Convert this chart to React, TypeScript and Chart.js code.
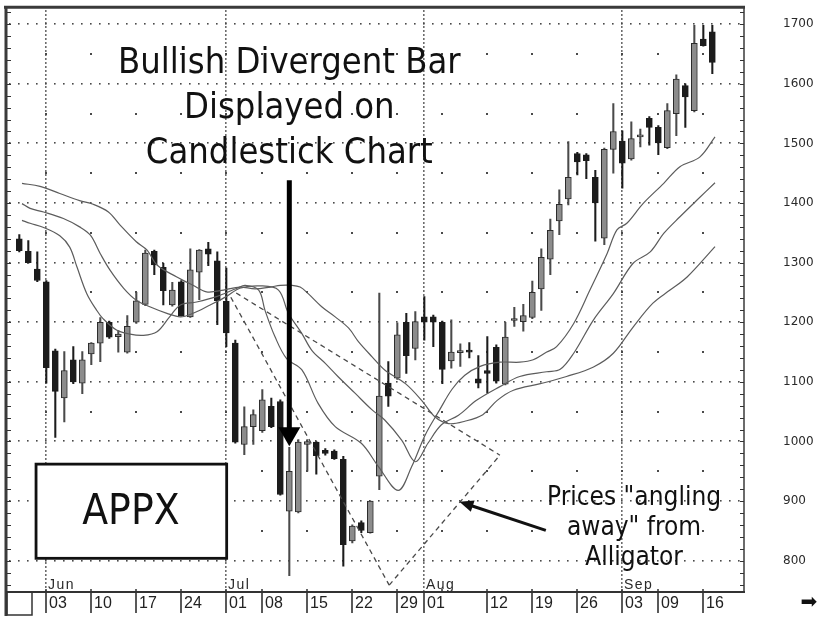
import React, { useEffect, useRef } from 'react';
import { Chart, registerables } from 'chart.js';

Chart.register(...registerables);

// Trading-day index 0 = 29 May 2002 (APPX daily candles)
const opens = [1340, 1319, 1289, 1268, 1152, 1073, 1137, 1098, 1147, 1165, 1200, 1176, 1150, 1200, 1230, 1319, 1292, 1229, 1268, 1209, 1284, 1323, 1303, 1235, 1165, 995, 1025, 1018, 1059, 1067, 883, 882, 995, 999, 985, 984, 970, 833, 864, 847, 942, 1098, 1106, 1200, 1156, 1209, 1209, 1200, 1135, 1149, 1151, 1105, 1119, 1158, 1096, 1203, 1201, 1208, 1256, 1306, 1370, 1407, 1483, 1481, 1443, 1341, 1490, 1504, 1474, 1511, 1542, 1527, 1493, 1550, 1597, 1555, 1675, 1687];
const highs = [1347, 1337, 1318, 1270, 1155, 1151, 1159, 1151, 1166, 1208, 1202, 1186, 1211, 1250, 1321, 1321, 1299, 1267, 1270, 1323, 1322, 1334, 1318, 1291, 1170, 1058, 1053, 1087, 1073, 1070, 990, 1003, 1003, 1000, 988, 986, 975, 860, 867, 900, 1249, 1134, 1199, 1215, 1218, 1243, 1212, 1202, 1204, 1164, 1166, 1144, 1176, 1162, 1200, 1225, 1230, 1269, 1323, 1373, 1422, 1503, 1485, 1483, 1455, 1492, 1567, 1521, 1536, 1524, 1545, 1530, 1567, 1615, 1600, 1698, 1698, 1698];
const lows = [1318, 1299, 1268, 1098, 1007, 1033, 1097, 1080, 1129, 1134, 1173, 1150, 1148, 1198, 1228, 1280, 1229, 1227, 1210, 1208, 1238, 1295, 1196, 1159, 997, 978, 995, 1015, 1023, 910, 775, 880, 950, 945, 977, 970, 791, 830, 847, 846, 919, 1059, 1104, 1114, 1137, 1170, 1159, 1097, 1123, 1126, 1140, 1090, 1081, 1098, 1095, 1193, 1185, 1206, 1220, 1280, 1347, 1397, 1447, 1441, 1336, 1330, 1450, 1425, 1472, 1494, 1497, 1481, 1491, 1513, 1527, 1553, 1663, 1617];
const closes = [1320, 1300, 1270, 1124, 1084, 1119, 1100, 1137, 1165, 1200, 1175, 1180, 1193, 1236, 1316, 1296, 1253, 1254, 1211, 1288, 1321, 1314, 1236, 1182, 999, 1025, 1045, 1070, 1025, 911, 950, 999, 1000, 976, 980, 971, 827, 858, 851, 900, 1076, 1076, 1179, 1144, 1201, 1200, 1200, 1121, 1150, 1151, 1150, 1098, 1114, 1101, 1175, 1205, 1211, 1250, 1309, 1354, 1398, 1443, 1469, 1471, 1400, 1490, 1520, 1467, 1508, 1513, 1527, 1501, 1555, 1608, 1578, 1668, 1664, 1636];

// Alligator lines
const lipsDays = [0.3, 1.2, 2.7, 4.5, 5.6, 6.4, 7.5, 8.6, 9.3, 10.8, 12.3, 13.8, 15.3, 16.7, 17.9, 19.7, 21.9, 24.2, 25.1, 26.6, 27.3, 28.4, 29.7, 31.4, 33.2, 35.1, 38.0, 39.9, 42.1, 43.6, 45.1, 46.7, 48.1, 49.5, 51.2, 53.4, 55.6, 57.1, 58.6, 59.7, 61.6, 63.4, 65.3, 66.4, 67.5, 69.3, 71.6, 73.4, 75.6, 77.3];
const lipsValues = [1371, 1366, 1359, 1345, 1326, 1293, 1248, 1220, 1206, 1187, 1180, 1178, 1184, 1209, 1229, 1234, 1243, 1257, 1262, 1254, 1220, 1176, 1139, 1120, 1064, 1025, 997, 958, 918, 958, 1011, 1053, 1088, 1111, 1126, 1133, 1133, 1137, 1150, 1159, 1198, 1254, 1315, 1355, 1366, 1399, 1433, 1461, 1477, 1511];
const teethDays = [0.3, 1.2, 2.7, 4.9, 6.7, 7.9, 9.0, 10.1, 11.6, 13.0, 14.5, 16.4, 17.9, 19.3, 21.2, 23.0, 24.5, 26.8, 28.8, 29.9, 31.4, 32.5, 34.0, 35.4, 37.3, 39.2, 40.6, 42.5, 44.0, 45.4, 46.9, 48.8, 50.8, 53.4, 55.6, 58.6, 60.1, 61.6, 63.8, 66.0, 68.2, 70.1, 71.6, 73.4, 75.3, 77.3];
const teethValues = [1399, 1391, 1385, 1374, 1360, 1346, 1315, 1287, 1257, 1237, 1226, 1215, 1209, 1215, 1229, 1243, 1257, 1261, 1254, 1215, 1181, 1153, 1131, 1109, 1081, 1053, 1036, 1002, 966, 997, 1028, 1044, 1069, 1092, 1109, 1117, 1121, 1148, 1204, 1248, 1299, 1318, 1349, 1377, 1405, 1434];
const jawDays = [0.3, 2.3, 4.5, 6.7, 8.2, 9.9, 11.2, 13.0, 14.2, 15.3, 17.5, 19.3, 20.8, 22.7, 24.5, 26.2, 27.9, 29.0, 30.3, 31.2, 32.1, 33.6, 35.1, 36.6, 37.7, 39.2, 40.6, 42.9, 44.7, 46.2, 47.7, 49.5, 51.5, 53.1, 54.9, 57.9, 60.8, 63.8, 66.0, 68.2, 70.4, 72.3, 74.2, 77.3];
const jawValues = [1433, 1428, 1416, 1404, 1398, 1385, 1363, 1335, 1321, 1296, 1276, 1262, 1251, 1254, 1259, 1256, 1259, 1262, 1262, 1259, 1248, 1226, 1209, 1190, 1167, 1142, 1120, 1097, 1069, 1041, 1030, 1034, 1045, 1069, 1086, 1097, 1109, 1125, 1148, 1192, 1232, 1254, 1276, 1327];

// Dashed "angling away" triangle
const dashDownDays = [23.5, 41.1];
const dashDownValues = [1242, 759];
const dashUpperDays = [24.1, 53.4];
const dashUpperValues = [1249, 977];
const dashReturnDays = [41.1, 53.4];
const dashReturnValues = [759, 977];

// Axes
const priceTicks = [800, 900, 1000, 1100, 1200, 1300, 1400, 1500, 1600, 1700];
const halfLevels = [850, 950, 1050, 1150, 1250, 1350, 1450, 1550, 1650];
const dayTickDays = [3, 8, 13, 18, 23, 27, 32, 37, 42, 45, 52, 57, 62, 67, 71, 76];
const dayTickLabels = ['03', '10', '17', '24', '01', '08', '15', '22', '29', '01', '12', '19', '26', '03', '09', '16'];
const weekDays = [3, 8, 13, 18, 23, 27, 32, 37, 42, 47, 52, 57, 62, 67, 71, 76];
const monthDays = [3, 23, 45, 67];
const monthLabels = ['Jun', 'Jul', 'Aug', 'Sep'];

const TITLE_FONT = "'DejaVu Sans Condensed', 'DejaVu Sans', sans-serif";

const decorPlugin = {
  id: 'decor',
  beforeDraw(chart: any) {
    const { ctx, width, height } = chart;
    ctx.save();
    ctx.fillStyle = '#ffffff';
    ctx.fillRect(0, 0, width, height);
    ctx.restore();
  },
  beforeDatasetsDraw(chart: any) {
    const { ctx, chartArea: a, scales } = chart;
    const xs = scales.x, ys = scales.y;
    ctx.save();
    ctx.fillStyle = '#4a4a4a';
    for (const lv of priceTicks) {
      const py = Math.round(ys.getPixelForValue(lv));
      for (let d = Math.ceil(xs.min); d <= xs.max; d++) {
        const px = Math.round(xs.getPixelForValue(d));
        if (px < a.left + 3 || px > a.right - 2) continue;
        ctx.fillRect(px - 1, py - 1, 1.6, 1.6);
      }
    }
    for (const lv of halfLevels) {
      const py = Math.round(ys.getPixelForValue(lv));
      for (const d of weekDays) {
        const px = Math.round(xs.getPixelForValue(d));
        ctx.fillRect(px - 1, py - 1, 2, 2);
      }
    }
    for (const d of monthDays) {
      const px = Math.round(xs.getPixelForValue(d));
      for (let py = a.top + 3; py < a.bottom; py += 4) {
        ctx.fillRect(px - 1, py, 1.6, 1.6);
      }
    }
    ctx.restore();
  },
  afterDatasetsDraw(chart: any) {
    const { ctx, scales } = chart;
    const xs = scales.x, ys = scales.y;
    const X = (d: number) => xs.getPixelForValue(d);
    const Y = (v: number) => ys.getPixelForValue(v);
    ctx.save();
    ctx.fillStyle = '#111111';
    ctx.textAlign = 'center';
    ctx.textBaseline = 'alphabetic';
    ctx.font = `36px ${TITLE_FONT}`;
    ctx.fillText('Bullish Divergent Bar', X(30), Y(1618));
    ctx.fillText('Displayed on', X(30), Y(1542));
    ctx.fillText('Candlestick Chart', X(30), Y(1467));

    const ax = X(30);
    ctx.strokeStyle = '#000000';
    ctx.lineWidth = 5;
    ctx.beginPath();
    ctx.moveTo(ax, Y(1438));
    ctx.lineTo(ax, Y(1020));
    ctx.stroke();
    ctx.fillStyle = '#000000';
    ctx.beginPath();
    ctx.moveTo(ax - 11, Y(1024));
    ctx.lineTo(ax + 11, Y(1024));
    ctx.lineTo(ax, Y(992));
    ctx.closePath();
    ctx.fill();

    const bx1 = X(1.86), bx2 = X(23.04), by1 = Y(962), by2 = Y(804);
    ctx.fillStyle = '#ffffff';
    ctx.fillRect(bx1, by1, bx2 - bx1, by2 - by1);
    ctx.strokeStyle = '#111111';
    ctx.lineWidth = 2.8;
    ctx.strokeRect(bx1, by1, bx2 - bx1, by2 - by1);
    ctx.fillStyle = '#111111';
    ctx.font = `42px ${TITLE_FONT}`;
    ctx.textBaseline = 'middle';
    ctx.fillText('APPX', X(12.4), Y(880));

    ctx.textBaseline = 'alphabetic';
    ctx.font = `26px ${TITLE_FONT}`;
    ctx.fillText('Prices "angling', X(68.3), Y(893));
    ctx.fillText('away" from', X(68.3), Y(843));
    ctx.fillText('Alligator', X(68.3), Y(793));

    const tx = X(58.5), ty = Y(851), hx = X(48.9), hy = Y(899);
    const ang = Math.atan2(hy - ty, hx - tx);
    ctx.strokeStyle = '#111111';
    ctx.lineWidth = 3;
    ctx.beginPath();
    ctx.moveTo(tx, ty);
    ctx.lineTo(hx - Math.cos(ang) * 8, hy - Math.sin(ang) * 8);
    ctx.stroke();
    ctx.beginPath();
    ctx.moveTo(hx, hy);
    ctx.lineTo(hx - Math.cos(ang) * 14 + Math.sin(ang) * 6, hy - Math.sin(ang) * 14 - Math.cos(ang) * 6);
    ctx.lineTo(hx - Math.cos(ang) * 14 - Math.sin(ang) * 6, hy - Math.sin(ang) * 14 + Math.cos(ang) * 6);
    ctx.closePath();
    ctx.fill();
    ctx.restore();
  },
  afterDraw(chart: any) {
    const { ctx, chartArea: a, scales } = chart;
    const xs = scales.x, ys = scales.y;
    ctx.save();
    ctx.strokeStyle = '#3a3a3a';
    ctx.lineWidth = 3;
    ctx.beginPath();
    ctx.moveTo(a.left - 2, a.top);
    ctx.lineTo(a.right, a.top);
    ctx.moveTo(a.left, a.top);
    ctx.lineTo(a.left, a.bottom + 24);
    ctx.stroke();
    ctx.lineWidth = 1.5;
    ctx.beginPath();
    ctx.moveTo(a.right - 1, a.top);
    ctx.lineTo(a.right - 1, a.bottom);
    ctx.stroke();
    ctx.lineWidth = 2;
    ctx.strokeStyle = '#333333';
    ctx.beginPath();
    ctx.moveTo(a.left, a.bottom);
    ctx.lineTo(a.right, a.bottom);
    ctx.stroke();
    ctx.lineWidth = 1;
    ctx.beginPath();
    for (let v = 760; v <= 1720; v += 20) {
      const py = Math.round(ys.getPixelForValue(v)) + 0.5;
      ctx.moveTo(a.left + 1, py);
      ctx.lineTo(a.left + 5, py);
      ctx.moveTo(a.right - 5, py);
      ctx.lineTo(a.right - 1, py);
    }
    ctx.stroke();
    ctx.lineWidth = 1.5;
    ctx.beginPath();
    for (const d of weekDays) {
      const px = Math.round(xs.getPixelForValue(d));
      ctx.moveTo(px, a.bottom - 3);
      ctx.lineTo(px, a.bottom);
    }
    ctx.stroke();
    ctx.strokeStyle = '#222222';
    ctx.fillStyle = '#222222';
    ctx.lineWidth = 1.5;
    ctx.font = "16px 'Liberation Sans', Arial, sans-serif";
    ctx.textAlign = 'left';
    ctx.textBaseline = 'middle';
    dayTickDays.forEach((d, i) => {
      const px = Math.round(xs.getPixelForValue(d));
      ctx.beginPath();
      ctx.moveTo(px, a.bottom + 1);
      ctx.lineTo(px, a.bottom + 21);
      ctx.stroke();
      ctx.fillText(dayTickLabels[i], px + 3, a.bottom + 12);
    });
    ctx.font = "14px 'Liberation Sans', Arial, sans-serif";
    (ctx as any).letterSpacing = '1.5px';
    ctx.textBaseline = 'alphabetic';
    ctx.fillStyle = '#2a2a2a';
    monthDays.forEach((d, i) => {
      const px = Math.round(xs.getPixelForValue(d));
      ctx.fillText(monthLabels[i], px + 2, a.bottom - 3);
    });
    (ctx as any).letterSpacing = '0px';
    ctx.strokeStyle = '#333333';
    ctx.lineWidth = 1.5;
    ctx.strokeRect(a.left + 1, a.bottom, 25, 23);
    ctx.fillStyle = '#111111';
    ctx.font = "20px 'DejaVu Sans', sans-serif";
    ctx.textAlign = 'center';
    ctx.textBaseline = 'middle';
    ctx.fillText('\u27A1', 809, a.bottom + 11);
    ctx.restore();
  },
};

export default function App() {
  const canvasRef = useRef<HTMLCanvasElement | null>(null);

  useEffect(() => {
    const canvas = canvasRef.current;
    if (!canvas) return;
    const idx = opens.map((_, i) => i);
    const isUp = (i: number) => closes[i] >= opens[i];
    const chart = new Chart(canvas, {
      type: 'bar',
      data: {
        datasets: [
          {
            type: 'line', label: 'Lips',
            data: lipsDays.map((d, i) => ({ x: d, y: lipsValues[i] })),
            borderColor: '#5c5c5c', borderWidth: 1.2, pointRadius: 0, tension: 0.35, order: 0,
          },
          {
            type: 'line', label: 'Teeth',
            data: teethDays.map((d, i) => ({ x: d, y: teethValues[i] })),
            borderColor: '#5c5c5c', borderWidth: 1.2, pointRadius: 0, tension: 0.35, order: 0,
          },
          {
            type: 'line', label: 'Jaw',
            data: jawDays.map((d, i) => ({ x: d, y: jawValues[i] })),
            borderColor: '#5c5c5c', borderWidth: 1.2, pointRadius: 0, tension: 0.35, order: 0,
          },
          {
            type: 'line', label: 'Trend down',
            data: dashDownDays.map((d, i) => ({ x: d, y: dashDownValues[i] })),
            borderColor: '#4a4a4a', borderWidth: 1.3, borderDash: [5, 4], pointRadius: 0, tension: 0, order: 0,
          },
          {
            type: 'line', label: 'Trend upper',
            data: dashUpperDays.map((d, i) => ({ x: d, y: dashUpperValues[i] })),
            borderColor: '#4a4a4a', borderWidth: 1.3, borderDash: [5, 4], pointRadius: 0, tension: 0, order: 0,
          },
          {
            type: 'line', label: 'Trend return',
            data: dashReturnDays.map((d, i) => ({ x: d, y: dashReturnValues[i] })),
            borderColor: '#4a4a4a', borderWidth: 1.3, borderDash: [5, 4], pointRadius: 0, tension: 0, order: 0,
          },
          {
            type: 'bar', label: 'Body',
            data: idx.map((i) => ({ x: i, y: [opens[i], closes[i]] })) as any,
            backgroundColor: idx.map((i) => (isUp(i) ? '#8c8c8c' : '#1c1c1c')),
            borderColor: idx.map((i) => (isUp(i) ? '#2c2c2c' : '#1c1c1c')),
            borderWidth: 1, borderSkipped: false, barThickness: 6, minBarLength: 2,
            grouped: false, order: 1,
          } as any,
          {
            type: 'bar', label: 'Wick',
            data: idx.map((i) => ({ x: i, y: [lows[i], highs[i]] })) as any,
            backgroundColor: idx.map((i) => (isUp(i) ? '#4a4a4a' : '#1c1c1c')),
            borderWidth: 0, barThickness: 1.4, grouped: false, order: 2,
          } as any,
        ],
      },
      options: {
        responsive: false,
        animation: false,
        devicePixelRatio: 1,
        layout: { padding: { left: 6, top: 7, right: 0, bottom: 26 } },
        plugins: { legend: { display: false }, tooltip: { enabled: false } },
        scales: {
          x: { type: 'linear', display: false, offset: false, grid: { offset: false }, min: -1.478, max: 80.63 },
          y: {
            type: 'linear', position: 'right', min: 747.5, max: 1728.5,
            afterBuildTicks: (s: any) => { s.ticks = priceTicks.map((v) => ({ value: v })); },
            afterFit: (s: any) => { s.width = 77; },
            grid: { display: true, drawOnChartArea: false, drawTicks: true, tickLength: 38, color: 'rgba(0,0,0,0)' },
            border: { display: false },
            ticks: {
              padding: 0, color: '#2a2a2a',
              font: { family: "'DejaVu Sans', sans-serif", size: 12 },
              callback: (v: any) => String(v),
            },
          },
        },
      } as any,
      plugins: [decorPlugin],
    });
    return () => chart.destroy();
  }, []);

  return (
    <div style={{ position: 'absolute', left: 0, top: 0, width: 822, height: 618, background: '#fff' }}>
      <canvas ref={canvasRef} width={822} height={618} style={{ display: 'block', width: 822, height: 618 }} />
    </div>
  );
}
